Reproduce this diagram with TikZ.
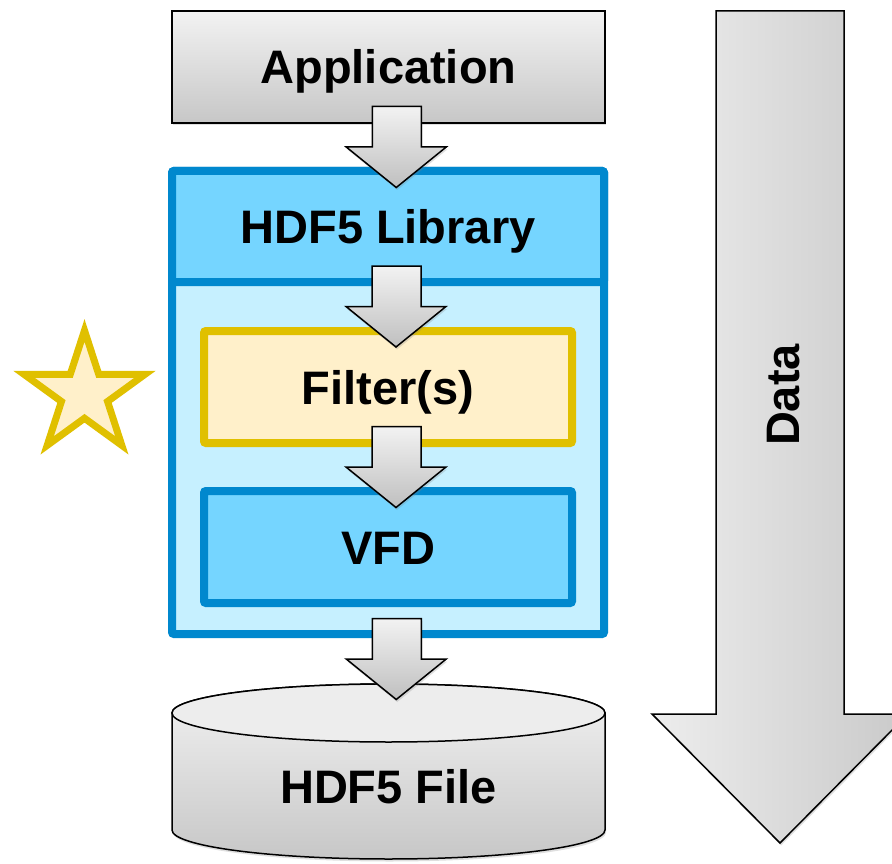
\documentclass[tikz,border=0pt]{standalone}
\usepackage{fontspec}
\setmainfont{Liberation Sans}
\usepackage{tikz}
\usetikzlibrary{shapes,arrows,calc,shadows,positioning}

\definecolor{LibBlue}{RGB}{0,136,206}
\definecolor{HeadFill}{RGB}{117,213,255}
\definecolor{BodyFill}{RGB}{198,240,255}
\definecolor{FiltLine}{RGB}{224,192,0}
\definecolor{FiltFill}{RGB}{255,240,202}

% block arrow half way between two anchors
\newcommand{\BlockArrow}[2]{%
	\coordinate (mid) at ($(#1)!0.5!(#2)$);
	\draw [BlockArr, shift={(mid)}] (-16,-40.5) -- (33,-40.5) -- (33,0) -- (58,0) -- (8,40.5) -- (-42,0) -- (-16,0) -- cycle;
}

\begin{document}
\begin{tikzpicture}[x=1pt, y=-1pt]
		\tikzstyle{Label}	= [font=\bfseries\fontsize{47}{56}\selectfont, text height=34pt, text depth=0pt, inner sep=0pt, outer sep=0pt]
		\tikzstyle{Shadow}	= [drop shadow={shadow xshift=1pt, shadow yshift=-2.5pt, opacity=0.25}]
		\tikzstyle{GrayBox}	= [Label, draw, line width=1.5pt, top color=black!5, bottom color=black!22, minimum width=433pt, minimum height=112pt, Shadow]
		\tikzstyle{LibBox}	= [Label, draw=LibBlue, line width=8pt, fill=BodyFill, minimum width=432pt, rounded corners=2pt]
		\tikzstyle{InBox}	= [Label, line width=8pt, minimum width=368pt, minimum height=112pt, rounded corners=2pt]
		\tikzstyle{BlockArr}	= [draw, line width=1.5pt, top color=black!5, bottom color=black!25, Shadow]
		\tikzstyle{BigArr}	= [draw, line width=1.5pt, left color=black!7, right color=black!21, Shadow]
		\tikzstyle{Star}	= [star, star points=5, star point ratio=2.618, minimum size=127pt, inner sep=0pt, draw=FiltLine, fill=FiltFill, line width=7pt]

		\useasboundingbox [fill=white] (0,0) rectangle (892,864);

		% library stack
		\node (lib) at (388,402.5) [LibBox, minimum height=463pt] {};
		\node (libhead) at (388,226.5) [LibBox, fill=HeadFill, minimum height=111pt] {HDF5 Library};
		\node (filter) at (388,387) [InBox, draw=FiltLine, fill=FiltFill] {Filter(s)};
		\node (vfd) at (388,547) [InBox, draw=LibBlue, fill=HeadFill] {VFD};
		\node (app) at (388.5,67) [GrayBox] {Application};
		\node (fav) at (84.5,394) [Star] {};

		% file as a cylinder
		\coordinate (filetop) at (388.5,684);
		\draw [line width=1.5pt, top color=black!5, bottom color=black!22, Shadow] (172,713) -- (172,830) arc [start angle=180, end angle=0, x radius=216.5, y radius=29] -- (605,713) arc [start angle=0, end angle=-180, x radius=216.5, y radius=29] -- cycle;
		\draw [line width=1.5pt, fill=black!7] (388.5,713) ellipse [x radius=216.5, y radius=29];
		\node (file) at (388.5,786) [Label] {HDF5 File};

		% data direction
		\draw [BigArr] (716,11) -- (844,11) -- (844,714) -- (908,714) -- (780,843) -- (652,714) -- (716,714) -- cycle;
		\node (data) at (782,395) [Label, rotate=90] {Data};

		\BlockArrow{app.south}{libhead.north}
		\BlockArrow{libhead.south}{filter.north}
		\BlockArrow{filter.south}{vfd.north}
		\BlockArrow{lib.south}{filetop}
	\end{tikzpicture}
\end{document}
